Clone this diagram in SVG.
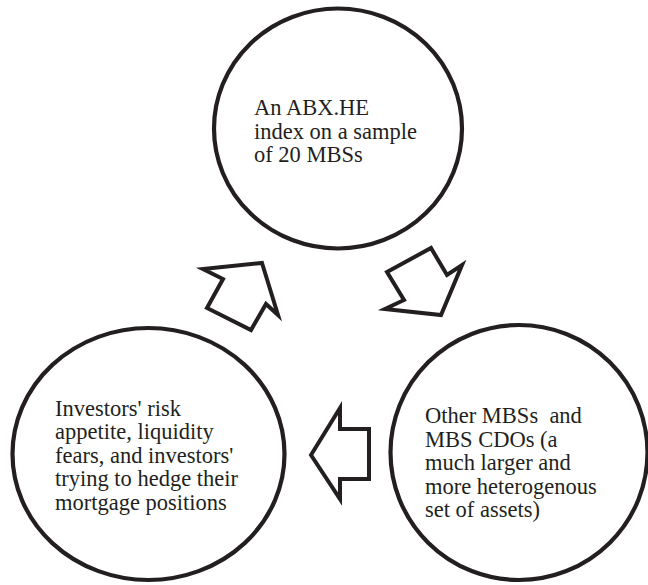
<svg xmlns="http://www.w3.org/2000/svg" width="648" height="585" viewBox="0 0 648 585">
<style>
.node { fill: #ffffff; stroke: #231f20; stroke-width: 4.2; }
.arrow { fill: #ffffff; stroke: #231f20; stroke-width: 4; stroke-linejoin: miter; stroke-miterlimit: 10; }
.lbl { font-family: 'Liberation Serif', 'Times New Roman', 'Noto Serif', 'DejaVu Serif', 'Nimbus Roman', FreeSerif, serif; font-size: 22.5px; fill: #231f20; white-space: pre; }
</style>
<rect width="648" height="585" fill="#ffffff"/>
<g id="node-abx">
  <ellipse class="node" cx="338" cy="128.5" rx="124" ry="120"/>
  <text class="lbl"><tspan x="254" y="115">An ABX.HE</tspan><tspan x="254" y="138.5">index on a sample</tspan><tspan x="254" y="162">of 20 MBSs</tspan></text>
</g>
<g id="node-other">
  <ellipse class="node" cx="519" cy="452.5" rx="128.5" ry="127.5"/>
  <text class="lbl" xml:space="preserve"><tspan x="425" y="423">Other MBSs  and</tspan><tspan x="425" y="446.5">MBS CDOs (a</tspan><tspan x="425" y="470">much larger and</tspan><tspan x="425" y="493.5">more heterogenous</tspan><tspan x="425" y="517">set of assets)</tspan></text>
</g>
<g id="node-investors">
  <ellipse class="node" cx="148.5" cy="454" rx="136" ry="126"/>
  <text class="lbl"><tspan x="55" y="415.5">Investors' risk</tspan><tspan x="55" y="439">appetite, liquidity</tspan><tspan x="55" y="462.5">fears, and investors'</tspan><tspan x="55" y="486">trying to hedge their</tspan><tspan x="55" y="509.5">mortgage positions</tspan></text>
</g>
<g id="connectors">
  <polygon class="arrow" points="262,263 278,315 266,304 251,330 207,308 223,279 203,269"/>
  <polygon class="arrow" points="387,272 431,248 447,275 462,265 441,315 385,309 404,300"/>
  <polygon class="arrow" points="311,455 340,408 340,429 369,429 369,479 340,479 340,499"/>
</g>
</svg>
